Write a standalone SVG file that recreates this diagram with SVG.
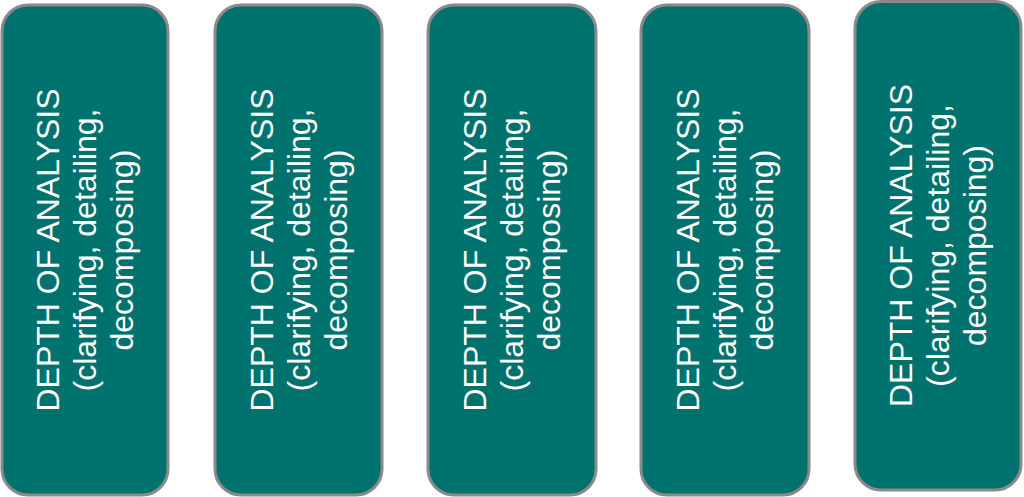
<svg xmlns="http://www.w3.org/2000/svg" width="1024" height="497" viewBox="0 0 1024 497">
<style>
.box{fill:#00726E;stroke:#8A8A8A;stroke-width:3}
.lbl{font-family:"Liberation Sans",Arial,sans-serif;font-size:32px;fill:#FFFFFF;text-anchor:middle}
</style>
<rect width="1024" height="497" fill="#FFFFFF"/>
<g id="node1">
<rect class="box" x="2" y="5" width="166" height="490" rx="26" ry="26"/>
<text class="lbl" transform="translate(85,250) rotate(-90)"><tspan x="0" y="-26">DEPTH OF ANALYSIS</tspan><tspan x="0" y="11">(clarifying, detailing,</tspan><tspan x="0" y="48">decomposing)</tspan></text>
</g>
<g id="node2">
<rect class="box" x="215" y="5" width="167" height="490" rx="26" ry="26"/>
<text class="lbl" transform="translate(298.5,250) rotate(-90)"><tspan x="0" y="-26">DEPTH OF ANALYSIS</tspan><tspan x="0" y="11">(clarifying, detailing,</tspan><tspan x="0" y="48">decomposing)</tspan></text>
</g>
<g id="node3">
<rect class="box" x="428" y="5" width="168" height="490" rx="26" ry="26"/>
<text class="lbl" transform="translate(512,250) rotate(-90)"><tspan x="0" y="-26">DEPTH OF ANALYSIS</tspan><tspan x="0" y="11">(clarifying, detailing,</tspan><tspan x="0" y="48">decomposing)</tspan></text>
</g>
<g id="node4">
<rect class="box" x="641" y="5" width="168" height="490" rx="26" ry="26"/>
<text class="lbl" transform="translate(725,250) rotate(-90)"><tspan x="0" y="-26">DEPTH OF ANALYSIS</tspan><tspan x="0" y="11">(clarifying, detailing,</tspan><tspan x="0" y="48">decomposing)</tspan></text>
</g>
<g id="node5">
<rect class="box" x="855" y="1.5" width="166" height="488.5" rx="26" ry="26"/>
<text class="lbl" transform="translate(938,245.5) rotate(-90)"><tspan x="0" y="-26">DEPTH OF ANALYSIS</tspan><tspan x="0" y="11">(clarifying, detailing,</tspan><tspan x="0" y="48">decomposing)</tspan></text>
</g>
<g id="connectors"></g>
</svg>
